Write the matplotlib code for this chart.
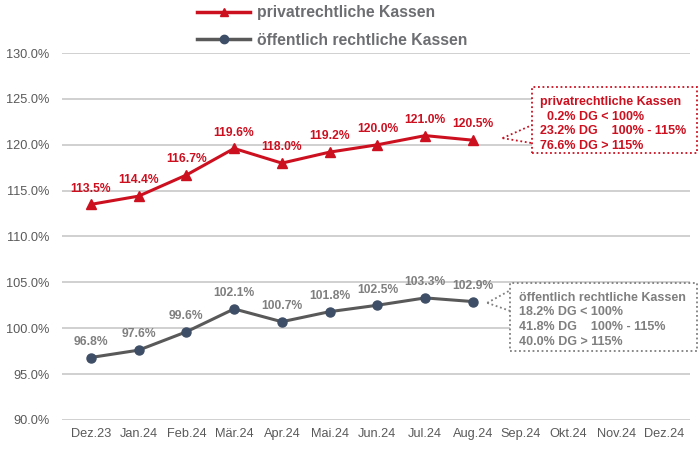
import numpy as np
import matplotlib.pyplot as plt
from matplotlib.lines import Line2D

plt.rcParams['font.family'] = ['Liberation Sans', 'DejaVu Sans']

months = ['Dez.23', 'Jan.24', 'Feb.24', 'Mär.24', 'Apr.24', 'Mai.24', 'Jun.24',
          'Jul.24', 'Aug.24', 'Sep.24', 'Okt.24', 'Nov.24', 'Dez.24']
privat = [113.5, 114.4, 116.7, 119.6, 118.0, 119.2, 120.0, 121.0, 120.5]
oeffentlich = [96.8, 97.6, 99.6, 102.1, 100.7, 101.8, 102.5, 103.3, 102.9]
yticks = [90, 95, 100, 105, 110, 115, 120, 125, 130]

privat_box = ['privatrechtliche Kassen', '  0.2% DG < 100%',
              '23.2% DG    100% - 115%', '76.6% DG > 115%']
oeff_box = ['öffentlich rechtliche Kassen', '18.2% DG < 100%',
            '41.8% DG    100% - 115%', '40.0% DG > 115%']

red = '#cc1020'
grey_line = '#595959'
grey_mark = '#3d4e66'
grey_txt = '#7f7f7f'

fig = plt.figure(figsize=(6.98, 4.5), dpi=100)
ax = fig.add_axes([0.089, 0.067, 0.9, 0.815])

x = np.arange(len(months))
ax.plot(x[:len(privat)], privat, color=red, lw=2.2, marker='^', ms=6.5, zorder=3)
ax.plot(x[:len(oeffentlich)], oeffentlich, color=grey_line, lw=2.2, marker='o',
        ms=6.5, mfc=grey_mark, mec=grey_mark, zorder=3)

for i, v in enumerate(privat):
    ax.annotate(f'{v:.1f}%', (i, v), xytext=(0, 7), textcoords='offset points',
                ha='center', va='bottom', color=red, fontsize=8.7, fontweight='bold')
for i, v in enumerate(oeffentlich):
    ax.annotate(f'{v:.1f}%', (i, v), xytext=(0, 7), textcoords='offset points',
                ha='center', va='bottom', color=grey_txt, fontsize=8.7, fontweight='bold')

ax.set_xlim(-0.6, 12.55)
ax.set_ylim(90, 130)
ax.set_yticks(yticks)
ax.set_yticklabels([f'{t:.1f}%' for t in yticks])
ax.set_xticks(x)
ax.set_xticklabels(months)
ax.tick_params(axis='both', length=0, colors='#595959', labelsize=9.2)
ax.tick_params(axis='y', pad=9)
ax.tick_params(axis='x', pad=6)
ax.grid(axis='y', color='#c8c8c8', lw=1.2)
ax.set_axisbelow(True)
for s in ax.spines.values():
    s.set_visible(False)

# legend
handles = [Line2D([], [], color=red, lw=2.5, marker='^', ms=6),
           Line2D([], [], color=grey_line, lw=2.5, marker='o', ms=6,
                  mfc=grey_mark, mec=grey_mark)]
leg = fig.legend(handles, ['privatrechtliche Kassen', 'öffentlich rechtliche Kassen'],
                 loc='upper left', bbox_to_anchor=(0.262, 1.02), frameon=False,
                 prop={'size': 11.3, 'weight': 'bold'}, labelcolor='#6d6e71',
                 handlelength=3.4, handletextpad=0.4, labelspacing=0.8)

# callout boxes
def callout(lines, color, box, anchor, ends):
    x0, y0, x1, y1 = box
    ax.add_patch(plt.Rectangle((x0, y0), x1 - x0, y1 - y0, fc='white', ec=color,
                               lw=1.3, ls=(0, (1, 1.5)), transform=fig.transFigure,
                               figure=fig, clip_on=False, zorder=4))
    for ye in ends:
        ax.plot([anchor[0], x0], [anchor[1], ye], color=color, zorder=4,
                lw=1.3, ls=(0, (1, 1.5)), transform=fig.transFigure, clip_on=False)
    fig.text(x0 + 0.012, y1 - 0.02, '\n'.join(lines), color=color, fontsize=9,
             fontweight='bold', va='top', ha='left', linespacing=1.3, zorder=5)

callout(privat_box, red, (0.762, 0.66, 0.998, 0.807), (0.72, 0.693), (0.722, 0.682))
callout(oeff_box, grey_txt, (0.731, 0.220, 0.998, 0.372), (0.698, 0.327), (0.355, 0.309))

fig.savefig('out.png', dpi=100)
